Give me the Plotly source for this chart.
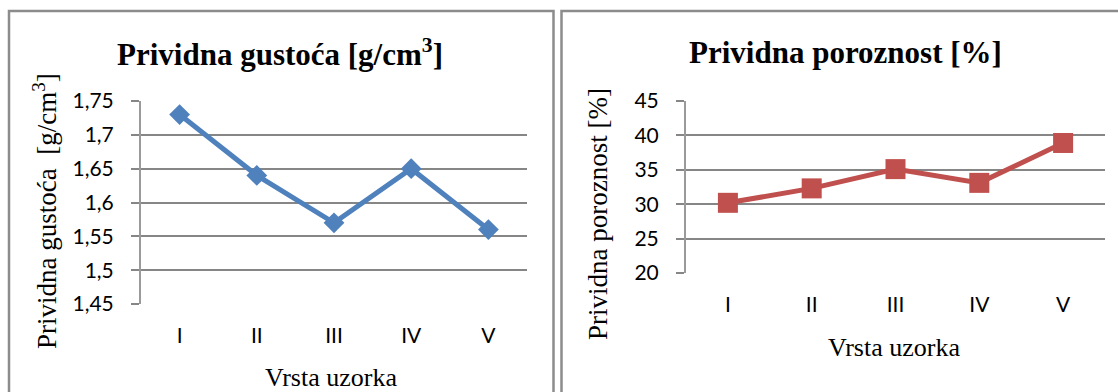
import plotly.graph_objects as go

W, H = 1118, 392

categories = ["I", "II", "III", "IV", "V"]
gustoca = [1.73, 1.64, 1.57, 1.65, 1.56]
poroznost = [30.2, 32.3, 35.1, 33.1, 38.9]

g_ticks = [1.45, 1.5, 1.55, 1.6, 1.65, 1.7, 1.75]
g_ticktext = ["1,45", "1,5", "1,55", "1,6", "1,65", "1,7", "1,75"]
p_ticks = [20, 25, 30, 35, 40, 45]
p_ticktext = ["20", "25", "30", "35", "40", "45"]

title_left = "Prividna gustoća [g/cm<sup>3</sup>]"
title_right = "Prividna poroznost [%]"
ytitle_left = "Prividna gustoća&nbsp; [g/cm<sup>3</sup>]"
ytitle_right = "Prividna poroznost [%]"
xtitle = "Vrsta uzorka"

BLUE = "#4F81BD"
RED = "#C0504D"
GRID = "#868686"
BORDER = "#8C8C8C"

def px(x):
    return x / W

def py(y):
    return 1 - y / H

fig = go.Figure()
fig.add_trace(go.Scatter(x=categories, y=gustoca, mode="lines+markers",
                         line=dict(color=BLUE, width=5),
                         marker=dict(symbol="diamond", size=16, color=BLUE),
                         xaxis="x", yaxis="y", showlegend=False, cliponaxis=False))
fig.add_trace(go.Scatter(x=categories, y=poroznost, mode="lines+markers",
                         line=dict(color=RED, width=5),
                         marker=dict(symbol="square", size=20, color=RED),
                         xaxis="x2", yaxis="y2", showlegend=False, cliponaxis=False))

tickfont = dict(family="Lato, Open Sans, sans-serif", size=21, color="#000000")
serif = "Liberation Serif, Times New Roman, serif"

common_x = dict(type="category", showgrid=False, zeroline=False, automargin=False,
                showline=False, ticks="", tickfont=tickfont, fixedrange=True,
                ticklabelstandoff=17)
common_y = dict(showgrid=True, gridcolor=GRID, gridwidth=2, zeroline=False,
                automargin=False,
                showline=True, linecolor="#9A9A9A", linewidth=2,
                ticks="outside", ticklen=8, tickcolor=GRID, tickwidth=2,
                tickfont=tickfont, fixedrange=True, ticklabelstandoff=13)

fig.update_layout(
    template="none",
    width=W, height=H, autosize=False,
    margin=dict(l=0, r=0, t=0, b=0, pad=0, autoexpand=False),
    paper_bgcolor="white", plot_bgcolor="white",
    xaxis=dict(domain=[px(141), px(527)], anchor="y", range=[-0.5, 4.5], **common_x),
    yaxis=dict(domain=[py(304), py(101)], anchor="x", range=[1.45, 1.75],
               tickvals=g_ticks, ticktext=g_ticktext, **common_y),
    xaxis2=dict(domain=[px(686), px(1105)], anchor="y2", range=[-0.5, 4.5], **common_x),
    yaxis2=dict(domain=[py(273), py(101)], anchor="x2", range=[20, 45],
                tickvals=p_ticks, ticktext=p_ticktext, **common_y),
)

# panel borders (bottom edge lies just outside the picture)
fig.add_shape(type="rect", xref="paper", yref="paper",
              x0=px(9), x1=px(553.5), y0=py(396), y1=py(11),
              line=dict(color=BORDER, width=2.5))
fig.add_shape(type="rect", xref="paper", yref="paper",
              x0=px(561.5), x1=px(1122), y0=py(396), y1=py(11),
              line=dict(color=BORDER, width=2.5))

annotations = [
    dict(text="<b>" + title_left + "</b>", x=px(280), y=py(52), xref="paper", yref="paper",
         showarrow=False, font=dict(family=serif, size=31, color="black"),
         xanchor="center", yanchor="middle"),
    dict(text="<b>" + title_right + "</b>", x=px(845), y=py(52), xref="paper", yref="paper",
         showarrow=False, font=dict(family=serif, size=31, color="black"),
         xanchor="center", yanchor="middle"),
    dict(text=ytitle_left, x=px(45), y=py(211), xref="paper", yref="paper",
         showarrow=False, textangle=-90, font=dict(family=serif, size=27, color="black"),
         xanchor="center", yanchor="middle"),
    dict(text=ytitle_right, x=px(598), y=py(214), xref="paper", yref="paper",
         showarrow=False, textangle=-90, font=dict(family=serif, size=27, color="black"),
         xanchor="center", yanchor="middle"),
    dict(text=xtitle, x=px(331), y=py(377), xref="paper", yref="paper",
         showarrow=False, font=dict(family=serif, size=26, color="black"),
         xanchor="center", yanchor="middle"),
    dict(text=xtitle, x=px(894), y=py(347), xref="paper", yref="paper",
         showarrow=False, font=dict(family=serif, size=26, color="black"),
         xanchor="center", yanchor="middle"),
]
fig.update_layout(annotations=annotations)

post = (
    "var s=document.body.style;s.margin='0';s.padding='0';s.overflow='hidden';"
    "var h=document.documentElement.style;h.margin='0';h.padding='0';h.overflow='hidden';"
)

fig.write_html("out.html", post_script=post,
               config={"responsive": False, "displayModeBar": False})
